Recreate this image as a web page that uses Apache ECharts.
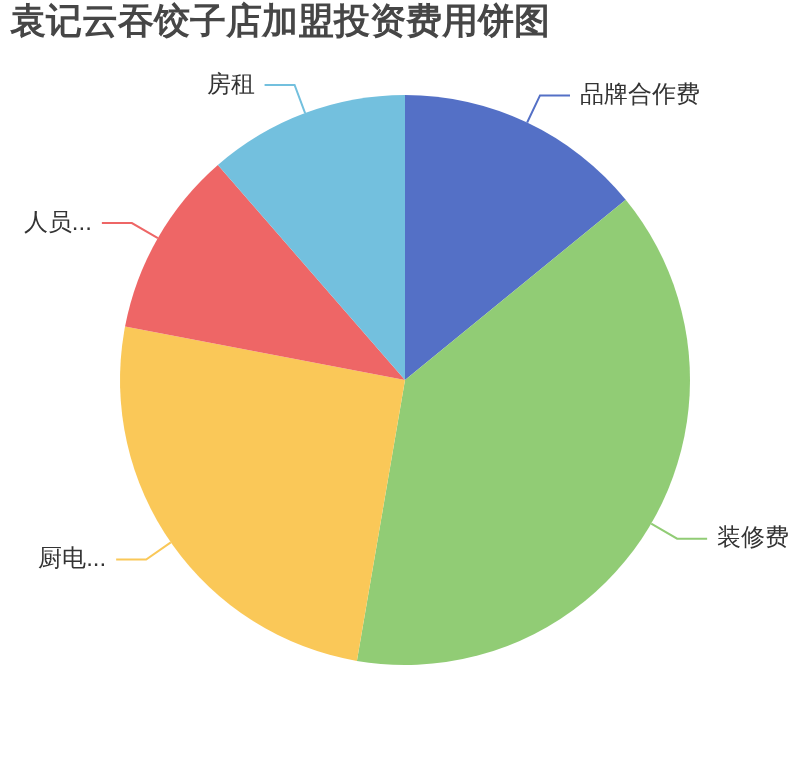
<!DOCTYPE html>
<html>
<head>
<meta charset="utf-8">
<script src="https://cdn.jsdelivr.net/npm/echarts@6/dist/echarts.min.js"></script>
<style>
html,body{margin:0;padding:0;background:#fff;}
#main{width:810px;height:760px;}
</style>
</head>
<body>
<div id="main"></div>
<script>
const titleText = '袁记云吞饺子店加盟投资费用饼图';
const categories = ['品牌合作费', '装修费', '厨电设备', '人员工资', '房租'];
const values = [14.1, 38.6, 25.3, 10.6, 11.4];
const colors = ['#5470c6', '#91cc75', '#fac858', '#ee6666', '#73c0de'];
// labels that the reference shows shortened with an ellipsis
const truncated = ['厨电设备', '人员工资'];

const chart = echarts.init(document.getElementById('main'));
chart.setOption({
  backgroundColor: '#fff',
  color: colors,
  title: {
    text: titleText,
    left: 5,
    top: 0,
    padding: 5,
    textStyle: { fontSize: 36, fontWeight: 'bold', color: '#464646' }
  },
  series: [{
    type: 'pie',
    center: ['50%', '50%'],
    radius: [0, '75%'],
    bleedMargin: 20,
    label: {
      show: true,
      fontSize: 24,
      color: '#333',
      distanceToLabelLine: 10
    },
    labelLine: {
      length: 30,
      length2: 30,
      lineStyle: { width: 2 }
    },
    itemStyle: { borderWidth: 0 },
    data: categories.map((n, i) => {
      const d = { name: n, value: values[i] };
      if (truncated.indexOf(n) >= 0) {
        d.label = { width: 70, overflow: 'truncate', ellipsis: '...' };
      }
      return d;
    })
  }]
});
</script>
</body>
</html>
